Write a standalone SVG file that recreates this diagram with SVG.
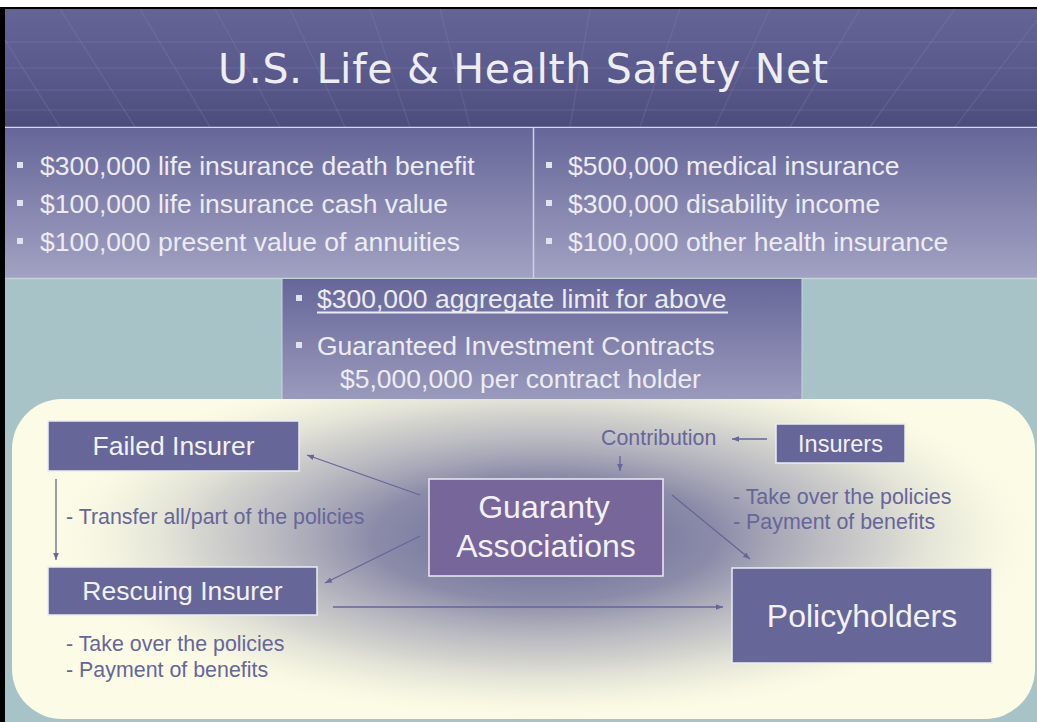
<svg xmlns="http://www.w3.org/2000/svg" width="1037" height="722" viewBox="0 0 1037 722">
<defs>
<linearGradient id="titleG" x1="0" y1="0" x2="0" y2="1">
<stop offset="0" stop-color="#646496"/>
<stop offset="0.6" stop-color="#58588a"/>
<stop offset="1" stop-color="#4c4c7c"/>
</linearGradient>
<linearGradient id="boxG" x1="0" y1="0" x2="0" y2="1">
<stop offset="0" stop-color="#666699"/>
<stop offset="1" stop-color="#a2a2c3"/>
</linearGradient>
<linearGradient id="midG" x1="0" y1="0" x2="0" y2="1">
<stop offset="0" stop-color="#666699"/>
<stop offset="1" stop-color="#9a9abd"/>
</linearGradient>
<radialGradient id="glow" cx="0.5" cy="0.5" r="0.5">
<stop offset="0" stop-color="#5e5e92" stop-opacity="0.95"/>
<stop offset="0.35" stop-color="#6f6f9a" stop-opacity="0.8"/>
<stop offset="0.68" stop-color="#9a9aae" stop-opacity="0.45"/>
<stop offset="1" stop-color="#d8d8cc" stop-opacity="0"/>
</radialGradient>
<marker id="ah" viewBox="0 0 10 10" refX="10" refY="5" markerWidth="7" markerHeight="7" markerUnits="userSpaceOnUse" orient="auto">
<path d="M0,1 L10,5 L0,9 z" fill="#666699"/>
</marker>
<clipPath id="creamClip">
<rect x="12" y="399" width="1023" height="320" rx="50" ry="50"/>
</clipPath>
</defs>
<style>
.bul{font-family:"Liberation Sans",Arial,sans-serif;font-size:26.5px;fill:#ececf2}
.sq{fill:#e2e2ec}
.node rect{fill:#666699;stroke:#ececf4;stroke-width:1.5}
.ntext{font-family:"Liberation Sans",Arial,sans-serif;fill:#f2f2f6;text-anchor:middle}
.lbl{font-family:"Liberation Sans",Arial,sans-serif;font-size:21.4px;fill:#666699}
.conn line{stroke:#666699;stroke-width:1.3;marker-end:url(#ah)}
.grid{stroke:#8a8ab4;stroke-opacity:0.22;stroke-width:1.5;fill:none}
</style>

<!-- page background -->
<rect x="0" y="0" width="1037" height="722" fill="#ffffff"/>
<rect x="0" y="7" width="1037" height="715" fill="#000000"/>
<rect x="5" y="9" width="1032" height="713" fill="#a7c3c8"/>

<!-- title band -->
<g id="title">
<rect x="5" y="9" width="1032" height="118" fill="url(#titleG)"/>
<g class="grid">
<line x1="5" y1="42" x2="1037" y2="42"/>
<line x1="5" y1="68" x2="1037" y2="68"/>
<line x1="5" y1="90" x2="1037" y2="90"/>
<line x1="5" y1="110" x2="1037" y2="110"/>
<line x1="60" y1="9" x2="135" y2="127"/>
<line x1="140" y1="9" x2="210" y2="127"/>
<line x1="215" y1="9" x2="280" y2="127"/>
<line x1="290" y1="9" x2="345" y2="127"/>
<line x1="370" y1="9" x2="410" y2="127"/>
<line x1="440" y1="9" x2="470" y2="127"/>
<line x1="590" y1="9" x2="570" y2="127"/>
<line x1="680" y1="9" x2="640" y2="127"/>
<line x1="770" y1="9" x2="715" y2="127"/>
<line x1="860" y1="9" x2="790" y2="127"/>
<line x1="955" y1="9" x2="870" y2="127"/>
<line x1="1037" y1="20" x2="955" y2="127"/>
<line x1="5" y1="40" x2="60" y2="127"/>
</g>
<text x="523" y="83" font-family="'DejaVu Sans','Open Sans',sans-serif" font-size="41" fill="#eeeef2" text-anchor="middle" textLength="610" lengthAdjust="spacing">U.S. Life &amp; Health Safety Net</text>
<line x1="5" y1="127.5" x2="1037" y2="127.5" stroke="#d8d8e8" stroke-width="1.5"/>
</g>

<!-- top left box -->
<g id="life-box">
<rect x="5" y="128" width="528" height="150" fill="url(#boxG)"/>
<rect class="sq" x="17" y="162" width="6" height="6"/>
<text class="bul" x="40" y="175">$300,000 life insurance death benefit</text>
<rect class="sq" x="17" y="200" width="6" height="6"/>
<text class="bul" x="40" y="213">$100,000 life insurance cash value</text>
<rect class="sq" x="17" y="238" width="6" height="6"/>
<text class="bul" x="40" y="251">$100,000 present value of annuities</text>
</g>

<!-- top right box -->
<g id="health-box">
<rect x="534" y="128" width="503" height="150" fill="url(#boxG)"/>
<line x1="533.5" y1="128" x2="533.5" y2="278" stroke="#d0d0e2" stroke-width="1.5"/>
<rect class="sq" x="546" y="162" width="6" height="6"/>
<text class="bul" x="568" y="175">$500,000 medical insurance</text>
<rect class="sq" x="546" y="200" width="6" height="6"/>
<text class="bul" x="568" y="213">$300,000 disability income</text>
<rect class="sq" x="546" y="238" width="6" height="6"/>
<text class="bul" x="568" y="251">$100,000 other health insurance</text>
</g>
<line x1="5" y1="278.5" x2="1037" y2="278.5" stroke="#c4d2da" stroke-width="1.5"/>

<!-- middle box -->
<g id="aggregate-box">
<rect x="282" y="279" width="520" height="120" fill="url(#midG)"/>
<line x1="282" y1="279" x2="282" y2="399" stroke="#c8d4dc" stroke-width="1"/>
<line x1="802" y1="279" x2="802" y2="399" stroke="#c8d4dc" stroke-width="1"/>
<rect class="sq" x="296" y="295" width="6" height="6"/>
<text class="bul" x="317" y="308">$300,000 aggregate limit for above</text>
<line x1="317" y1="312.5" x2="728" y2="312.5" stroke="#ececf2" stroke-width="1.8"/>
<rect class="sq" x="296" y="342" width="6" height="6"/>
<text class="bul" x="317" y="355">Guaranteed Investment Contracts</text>
<text class="bul" x="340" y="388">$5,000,000 per contract holder</text>
</g>

<!-- cream panel -->
<g id="panel">
<rect x="12" y="399" width="1023" height="320" rx="50" ry="50" fill="#fcfce6"/>
<g clip-path="url(#creamClip)">
<ellipse cx="545" cy="538" rx="490" ry="180" fill="url(#glow)"/>
</g>
</g>

<!-- connectors -->
<g id="connectors" class="conn">
<line x1="767" y1="439" x2="732" y2="439"/>
<line x1="620" y1="456" x2="620" y2="471"/>
<line x1="420" y1="495" x2="307" y2="455"/>
<line x1="420" y1="536" x2="325" y2="583"/>
<line x1="672" y1="495" x2="750" y2="559"/>
<line x1="333" y1="607" x2="723" y2="607"/>
<line x1="56" y1="479" x2="56" y2="560"/>
</g>

<!-- nodes -->
<g id="failed-insurer" class="node">
<rect x="48" y="421" width="251" height="50"/>
<text class="ntext" x="173.5" y="455" font-size="26.5">Failed Insurer</text>
</g>
<g id="rescuing-insurer" class="node">
<rect x="48" y="567" width="269" height="48"/>
<text class="ntext" x="182.5" y="600" font-size="26.5">Rescuing Insurer</text>
</g>
<g id="guaranty-associations" class="node">
<rect x="429" y="479" width="234" height="97" style="fill:#776699"/>
<text class="ntext" x="544" y="518" font-size="32">Guaranty</text>
<text class="ntext" x="546" y="557" font-size="32">Associations</text>
</g>
<g id="insurers" class="node">
<rect x="776" y="424" width="129" height="39"/>
<text class="ntext" x="840.5" y="452" font-size="23.5">Insurers</text>
</g>
<g id="policyholders" class="node">
<rect x="732" y="568" width="260" height="95"/>
<text class="ntext" x="862" y="627" font-size="32">Policyholders</text>
</g>

<!-- labels -->
<g id="labels">
<text class="lbl" x="601" y="445" font-size="21">Contribution</text>
<text class="lbl" x="66" y="524">- Transfer all/part of the policies</text>
<text class="lbl" x="733" y="504">- Take over the policies</text>
<text class="lbl" x="733" y="529">- Payment of benefits</text>
<text class="lbl" x="66" y="651">- Take over the policies</text>
<text class="lbl" x="66" y="677">- Payment of benefits</text>
</g>
</svg>
